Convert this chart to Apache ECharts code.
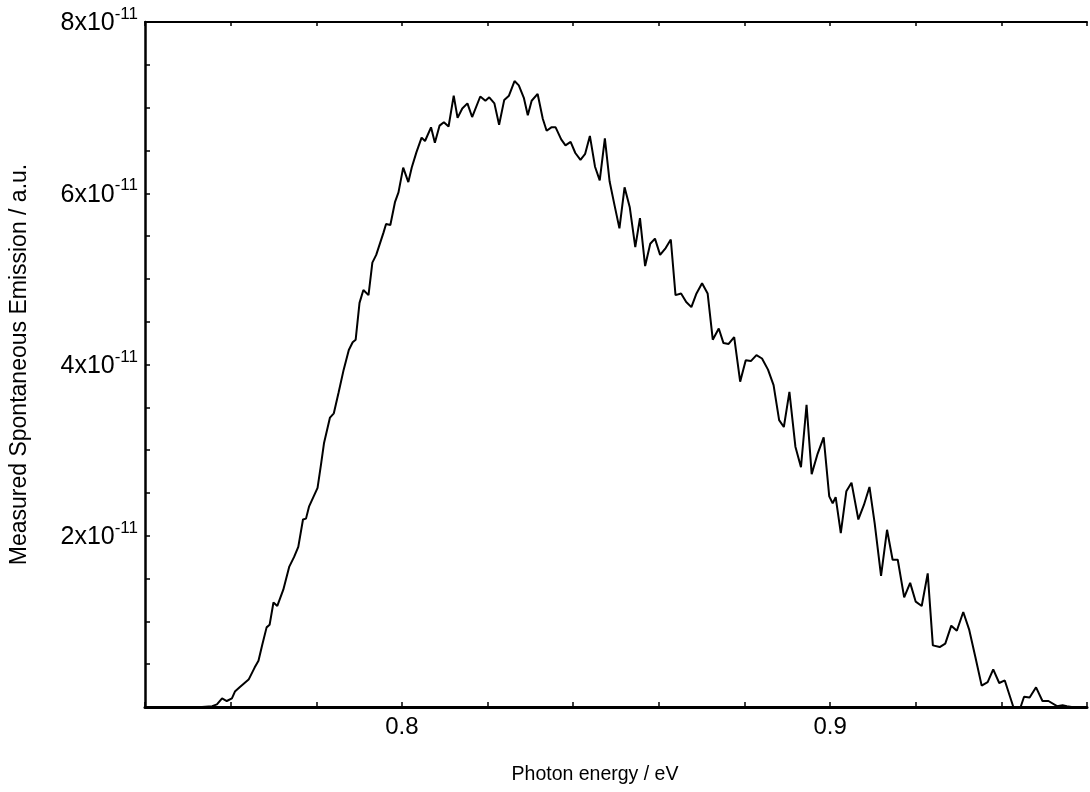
<!DOCTYPE html>
<html>
<head>
<meta charset="utf-8">
<script src="https://cdn.jsdelivr.net/npm/echarts@6/dist/echarts.min.js"></script>
<style>
html,body{margin:0;padding:0;background:#fff;}
#c{width:1090px;height:792px;}
</style>
</head>
<body>
<div id="c"></div>
<script>
// Photon energy (eV)
const energy = [
0.7400,0.7533,0.7557,0.7568,0.7580,0.7591,0.7603,0.7610,0.7621,0.7642,
0.7656,0.7665,0.7674,0.7684,0.7691,0.7700,0.7709,0.7723,0.7737,0.7748,
0.7758,0.7769,0.7776,0.7783,0.7803,0.7811,0.7818,0.7832,0.7841,0.7852,
0.7864,0.7876,0.7885,0.7892,0.7901,0.7910,0.7922,0.7931,0.7940,0.7957,
0.7963,0.7973,0.7984,0.7992,0.8003,0.8015,0.8023,0.8034,0.8046,0.8054,
0.8068,0.8077,0.8088,0.8098,0.8109,0.8121,0.8130,0.8141,0.8153,0.8164,
0.8183,0.8195,0.8204,0.8216,0.8227,0.8239,0.8250,0.8263,0.8273,0.8285,
0.8294,0.8303,0.8317,0.8329,0.8338,0.8349,0.8359,0.8372,0.8382,0.8394,
0.8405,0.8417,0.8428,0.8439,0.8451,0.8462,0.8474,0.8485,0.8497,0.8508,
0.8520,0.8532,0.8545,0.8556,0.8568,0.8580,0.8591,0.8603,0.8616,0.8628,
0.8639,0.8652,0.8664,0.8676,0.8688,0.8701,0.8714,0.8726,0.8740,0.8751,
0.8763,0.8776,0.8790,0.8803,0.8815,0.8828,0.8841,0.8855,0.8868,0.8881,
0.8892,0.8905,0.8919,0.8932,0.8945,0.8957,0.8971,0.8985,0.8998,0.9006,
0.9013,0.9025,0.9038,0.9050,0.9066,0.9079,0.9092,0.9104,0.9119,0.9133,
0.9146,0.9158,0.9173,0.9187,0.9200,0.9214,0.9228,0.9240,0.9256,0.9269,
0.9283,0.9296,0.9311,0.9325,0.9339,0.9354,0.9368,0.9381,0.9395,0.9408,
0.9428,0.9445,0.9453,0.9466,0.9481,0.9496,0.9510,0.9530,0.9543,0.9553,
0.9564,0.9600
];
// Measured spontaneous emission, in units of 1e-11 a.u.
const emission = [
0,0,0.01,0.03,0.10,0.07,0.10,0.18,0.23,0.32,
0.46,0.54,0.73,0.93,0.96,1.22,1.18,1.37,1.64,1.75,
1.87,2.19,2.20,2.34,2.56,2.83,3.08,3.38,3.43,3.67,
3.94,4.17,4.26,4.29,4.72,4.87,4.81,5.19,5.28,5.54,
5.64,5.63,5.90,6.01,6.30,6.13,6.30,6.48,6.65,6.61,
6.77,6.59,6.79,6.83,6.78,7.14,6.88,6.99,7.05,6.89,
7.13,7.08,7.12,7.05,6.80,7.09,7.14,7.31,7.26,7.11,
6.91,7.08,7.16,6.87,6.73,6.77,6.77,6.63,6.56,6.60,
6.47,6.39,6.46,6.67,6.31,6.15,6.64,6.14,5.85,5.59,
6.07,5.84,5.37,5.71,5.15,5.41,5.47,5.28,5.36,5.46,
4.81,4.83,4.73,4.67,4.83,4.95,4.83,4.29,4.42,4.25,
4.24,4.32,3.80,4.05,4.04,4.11,4.07,3.94,3.76,3.35,
3.27,3.68,3.04,2.80,3.53,2.72,2.96,3.15,2.46,2.38,
2.45,2.03,2.52,2.62,2.19,2.36,2.57,2.15,1.53,2.07,
1.72,1.72,1.28,1.45,1.23,1.18,1.56,0.72,0.70,0.74,
0.95,0.89,1.11,0.90,0.59,0.25,0.29,0.44,0.28,0.31,
0,0,0.12,0.11,0.23,0.07,0.07,0.01,0.02,0.01,
0,0
];
const xLabelTicks = [0.8, 0.9];
const yLabelTicks = [2, 4, 6, 8];
const yExponent = '-11';

const chart = echarts.init(document.getElementById('c'), null, {renderer: 'canvas'});
const FONT = 'Liberation Sans, Arial, sans-serif';
const pts = energy.map((e, i) => [e, emission[i]]);

function isLabelled(v, list) {
  return list.some(t => Math.abs(v - t) < 1e-6);
}

chart.setOption({
  animation: false,
  backgroundColor: '#fff',
  grid: {left: 142, top: 22, right: -4, bottom: 85, containLabel: false},
  xAxis: [{
    type: 'value', min: 0.74, max: 0.96, interval: 0.02, position: 'bottom',
    name: 'Photon energy / eV', nameLocation: 'middle', nameGap: 58,
    nameTextStyle: {color: '#000', fontSize: 19.5, fontFamily: FONT, padding: [0, 42, 0, 0]},
    axisLine: {show: true, onZero: false, lineStyle: {color: '#000', width: 3}},
    axisTick: {show: true, inside: true, length: 5, lineStyle: {color: '#000', width: 1.5}},
    axisLabel: {color: '#000', fontSize: 24, fontFamily: FONT, margin: 8,
      formatter: v => isLabelled(v, xLabelTicks) ? (Math.round(v * 10) / 10).toFixed(1) : ''},
    splitLine: {show: false}
  }, {
    type: 'value', min: 0.74, max: 0.96, interval: 0.02, position: 'top',
    axisLine: {show: true, onZero: false, lineStyle: {color: '#000', width: 2}},
    axisTick: {show: true, inside: true, length: 4, lineStyle: {color: '#000', width: 1.5}},
    axisLabel: {show: false},
    splitLine: {show: false}
  }],
  yAxis: [{
    type: 'value', min: 0, max: 8, interval: 0.5,
    name: 'Measured Spontaneous Emission / a.u.', nameLocation: 'middle', nameGap: 114,
    nameRotate: 90,
    nameTextStyle: {color: '#000', fontSize: 23, fontFamily: FONT},
    axisLine: {show: true, onZero: false, lineStyle: {color: '#000', width: 2.5}},
    axisTick: {show: true, inside: true, length: 5, lineStyle: {color: '#000', width: 1.5}},
    axisLabel: {
      margin: 7,
      formatter: v => isLabelled(v, yLabelTicks) ? '{n|' + Math.round(v) + 'x10}{s|' + yExponent + '}' : '',
      rich: {
        n: {color: '#000', fontSize: 25, fontFamily: FONT, verticalAlign: 'bottom', lineHeight: 28},
        s: {color: '#000', fontSize: 17, fontFamily: FONT, verticalAlign: 'bottom', lineHeight: 28, padding: [0, 0, 13, 0]}
      }
    },
    splitLine: {show: false}
  }],
  series: [{
    type: 'line', xAxisIndex: 0, yAxisIndex: 0, data: pts,
    showSymbol: false, symbol: 'none', smooth: false,
    lineStyle: {color: '#000', width: 2},
    clip: true
  }]
});
</script>
</body>
</html>
